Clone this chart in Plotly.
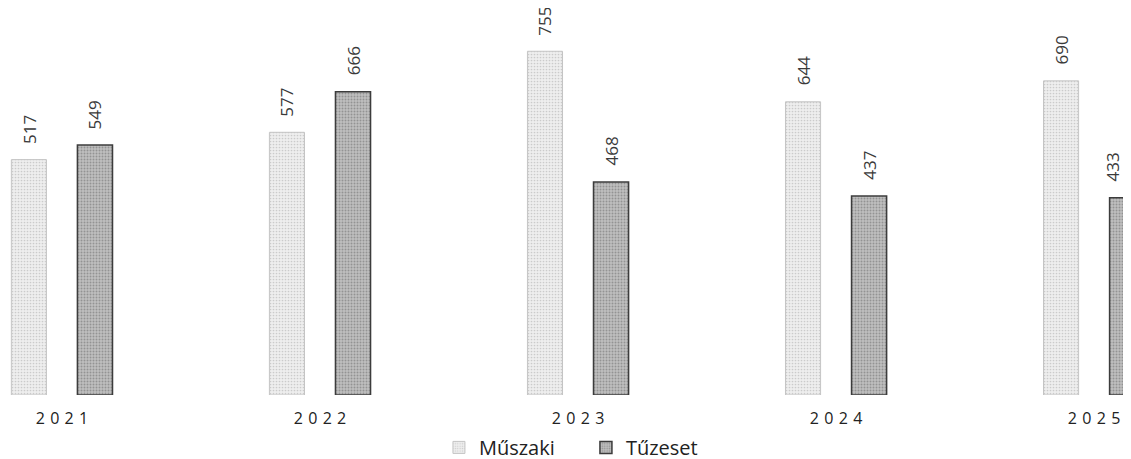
import plotly.graph_objects as go

years = ["2021", "2022", "2023", "2024", "2025"]
muszaki = [517, 577, 755, 644, 690]
tuzeset = [549, 666, 468, 437, 433]

xpos = list(range(len(years)))
off = 0.128
fig = go.Figure()
fig.add_trace(go.Bar(
    name="Műszaki", x=[p - off for p in xpos], y=muszaki, width=0.136,
    marker=dict(color="#e6e6e6", line=dict(color="#c4c4c4", width=1),
                pattern=dict(shape=".", fgcolor="#a8a8a8", bgcolor="#eeeeee", size=3, solidity=0.25)),
))
fig.add_trace(go.Bar(
    name="Tűzeset", x=[p + off for p in xpos], y=tuzeset, width=0.136,
    marker=dict(color="#a8a8a8", line=dict(color="#3c3c3c", width=1.5),
                pattern=dict(shape=".", fgcolor="#666666", bgcolor="#c0c0c0", size=3, solidity=0.35)),
))

lblfont = dict(family="Open Sans", size=17, color="#3a3a3a")
for i, p in enumerate(xpos):
    fig.add_annotation(x=p - off, y=muszaki[i], text=str(muszaki[i]), textangle=-90,
                       showarrow=False, yanchor="bottom", xanchor="center", yshift=14,
                       font=lblfont)
    fig.add_annotation(x=p + off, y=tuzeset[i], text=str(tuzeset[i]), textangle=-90,
                       showarrow=False, yanchor="bottom", xanchor="center", yshift=14,
                       xshift=(-15 if i == len(xpos) - 1 else 0), font=lblfont)

fig.update_layout(
    width=1131, height=459,
    margin=dict(l=0, r=0, t=0, b=64),
    paper_bgcolor="white", plot_bgcolor="white",
    barmode="overlay",
    font=dict(family="Open Sans", color="#333333"),
    xaxis=dict(range=[-0.209, 4.174], tickvals=xpos,
               ticktext=["\u2004".join(list(y)) for y in years],
               tickfont=dict(size=16, color="#222222"), showgrid=False, zeroline=False,
               showline=False, ticks="", ticklabelstandoff=12),
    yaxis=dict(range=[0, 850], visible=False),
    legend=dict(orientation="h", x=0.511, xanchor="center", y=-0.085, yanchor="top",
                font=dict(size=20, color="#222222"), traceorder="normal",
                itemwidth=30, entrywidth=102, entrywidthmode="pixels"),
    showlegend=True,
)
fig.write_html("out.html")
